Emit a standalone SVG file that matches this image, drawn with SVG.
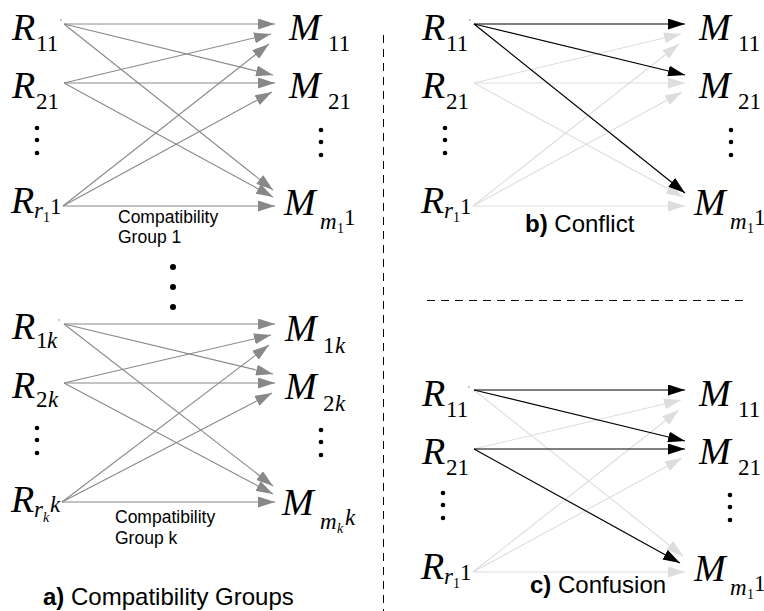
<svg xmlns="http://www.w3.org/2000/svg" width="764" height="611" viewBox="0 0 764 611">
  <style>
    .big { font-family: "Liberation Serif", "Times New Roman", serif; font-style: italic; font-size: 38px; fill: #000; }
    .sub { font-family: "Liberation Serif", "Times New Roman", serif; font-size: 23px; fill: #000; }
    .subi { font-family: "Liberation Serif", "Times New Roman", serif; font-style: italic; font-size: 23px; fill: #000; }
    .ss { font-family: "Liberation Serif", "Times New Roman", serif; font-size: 14px; fill: #000; }
    .ssi { font-family: "Liberation Serif", "Times New Roman", serif; font-style: italic; font-size: 14px; fill: #000; }
    .grp { font-family: "Liberation Sans", Arial, sans-serif; font-size: 17.5px; fill: #000; }
    .cap { font-family: "Liberation Sans", Arial, sans-serif; font-size: 24px; fill: #000; }
    .cap tspan.b { font-weight: bold; }
    .g { stroke: #888; stroke-width: 1.1; fill: none; marker-end: url(#ah-g); }
    .l { stroke: #ddd; stroke-width: 1.1; fill: none; marker-end: url(#ah-l); }
    .k { stroke: #000; stroke-width: 1.2; fill: none; marker-end: url(#ah-k); }
    .dot { fill: #000; }
    .tick { fill: #666; }
    .div { stroke: #000; stroke-width: 1; stroke-dasharray: 8 6; fill: none; }
  </style>
  <defs>
    <marker id="ah-g" markerUnits="userSpaceOnUse" markerWidth="17" markerHeight="11" refX="17" refY="5.5" orient="auto">
      <path d="M0,0 L17,5.5 L0,11 z" fill="#888"/>
    </marker>
    <marker id="ah-l" markerUnits="userSpaceOnUse" markerWidth="17" markerHeight="11" refX="17" refY="5.5" orient="auto">
      <path d="M0,0 L17,5.5 L0,11 z" fill="#ddd"/>
    </marker>
    <marker id="ah-k" markerUnits="userSpaceOnUse" markerWidth="17" markerHeight="11" refX="17" refY="5.5" orient="auto">
      <path d="M0,0 L17,5.5 L0,11 z" fill="#000"/>
    </marker>
    <!-- vertical ellipsis used in every column -->
    <g id="vdots">
      <circle cx="0" cy="0" r="2.3"/>
      <circle cx="0" cy="12" r="2.3"/>
      <circle cx="0" cy="25" r="2.3"/>
    </g>
  </defs>

  <!-- panel separators -->
  <g id="dividers">
    <line class="div" x1="383.5" y1="35" x2="383.5" y2="611"/>
    <line class="div" x1="427" y1="300.5" x2="745" y2="300.5"/>
  </g>

  <!-- ===== a) group 1 ===== -->
  <g id="connectors-a1">
    <line class="g" x1="64" y1="24" x2="275" y2="24"/>
    <line class="g" x1="64" y1="24" x2="273" y2="75"/>
    <line class="g" x1="64" y1="24" x2="273" y2="190"/>
    <line class="g" x1="64" y1="83" x2="271" y2="34"/>
    <line class="g" x1="64" y1="83" x2="275" y2="83"/>
    <line class="g" x1="64" y1="83" x2="273" y2="197"/>
    <line class="g" x1="63" y1="206" x2="269" y2="44"/>
    <line class="g" x1="63" y1="206" x2="272" y2="92"/>
    <line class="g" x1="63" y1="206" x2="275" y2="206"/>
  </g>
  <g id="a1-R11"><circle class="tick" cx="61" cy="20" r="0.7"/><text class="big" x="12" y="40">R</text><text class="sub" x="36" y="51">11</text></g>
  <g id="a1-R21"><text class="big" x="12" y="98">R</text><text class="sub" x="36" y="109">21</text></g>
  <g id="a1-Rr1"><text class="big" x="11" y="213">R</text><text class="subi" x="34" y="218">r</text><text class="ss" x="43" y="222">1</text><text class="sub" x="50" y="214">1</text></g>
  <g id="a1-M11"><text class="big" x="289" y="40">M</text><text class="sub" x="328" y="51">11</text></g>
  <g id="a1-M21"><text class="big" x="289" y="98">M</text><text class="sub" x="328" y="109">21</text></g>
  <g id="a1-Mm1"><text class="big" x="284" y="215">M</text><text class="subi" x="320" y="229">m</text><text class="ss" x="337" y="233">1</text><text class="sub" x="344" y="225">1</text></g>
  <g id="a1-dots" class="dot"><use href="#vdots" x="37" y="128"/><use href="#vdots" x="321" y="130"/></g>
  <g id="a1-label"><text class="grp" x="118" y="223">Compatibility</text><text class="grp" x="118" y="243">Group 1</text></g>

  <!-- ellipsis between groups -->
  <g id="a-between" class="dot">
    <circle cx="173" cy="267" r="3"/>
    <circle cx="173" cy="287" r="3"/>
    <circle cx="173" cy="307" r="3"/>
  </g>

  <!-- ===== a) group k ===== -->
  <g id="connectors-ak">
    <line class="g" x1="64" y1="324" x2="275" y2="324"/>
    <line class="g" x1="64" y1="324" x2="273" y2="374"/>
    <line class="g" x1="64" y1="324" x2="273" y2="486"/>
    <line class="g" x1="64" y1="383" x2="271" y2="335"/>
    <line class="g" x1="64" y1="383" x2="275" y2="383"/>
    <line class="g" x1="64" y1="383" x2="273" y2="494"/>
    <line class="g" x1="62" y1="502" x2="269" y2="345"/>
    <line class="g" x1="62" y1="502" x2="272" y2="393"/>
    <line class="g" x1="62" y1="502" x2="275" y2="502"/>
  </g>
  <g id="ak-R1k"><circle class="tick" cx="59" cy="320" r="0.7"/><text class="big" x="12" y="339">R</text><text class="sub" x="36" y="348">1</text><text class="subi" x="47" y="348">k</text></g>
  <g id="ak-R2k"><text class="big" x="12" y="398">R</text><text class="sub" x="36" y="407">2</text><text class="subi" x="48" y="407">k</text></g>
  <g id="ak-Rrk"><text class="big" x="11" y="512">R</text><text class="subi" x="34" y="517">r</text><text class="ssi" x="43" y="522">k</text><text class="subi" x="50" y="512">k</text></g>
  <g id="ak-M1k"><text class="big" x="285" y="341">M</text><text class="sub" x="323" y="353">1</text><text class="subi" x="335" y="353">k</text></g>
  <g id="ak-M2k"><text class="big" x="285" y="399">M</text><text class="sub" x="323" y="411">2</text><text class="subi" x="335" y="411">k</text></g>
  <g id="ak-Mmk"><text class="big" x="282" y="515">M</text><text class="subi" x="320" y="529">m</text><text class="ssi" x="337" y="533">k</text><text class="subi" x="345" y="525">k</text></g>
  <g id="ak-dots" class="dot"><use href="#vdots" x="37" y="428"/><use href="#vdots" x="321" y="430"/></g>
  <g id="ak-label"><text class="grp" x="115" y="523">Compatibility</text><text class="grp" x="115" y="544">Group k</text></g>

  <text id="cap-a" class="cap" x="43" y="605"><tspan class="b">a)</tspan> Compatibility Groups</text>

  <!-- ===== b) conflict ===== -->
  <g transform="translate(410,0)">
    <g id="connectors-b">
      <line class="l" x1="64" y1="83" x2="271" y2="34"/>
      <line class="l" x1="64" y1="83" x2="275" y2="83"/>
      <line class="l" x1="64" y1="83" x2="273" y2="197"/>
      <line class="l" x1="63" y1="206" x2="269" y2="44"/>
      <line class="l" x1="63" y1="206" x2="272" y2="92"/>
      <line class="l" x1="63" y1="206" x2="275" y2="206"/>
      <line class="k" x1="64" y1="24" x2="275" y2="24"/>
      <line class="k" x1="64" y1="24" x2="275" y2="75"/>
      <line class="k" x1="64" y1="24" x2="275" y2="193"/>
    </g>
    <g id="b-R11"><circle class="tick" cx="60" cy="20" r="0.7"/><text class="big" x="12" y="40">R</text><text class="sub" x="36" y="51">11</text></g>
    <g id="b-R21"><text class="big" x="12" y="98">R</text><text class="sub" x="36" y="109">21</text></g>
    <g id="b-Rr1"><text class="big" x="11" y="213">R</text><text class="subi" x="34" y="218">r</text><text class="ss" x="43" y="222">1</text><text class="sub" x="50" y="214">1</text></g>
    <g id="b-M11"><text class="big" x="289" y="40">M</text><text class="sub" x="328" y="51">11</text></g>
    <g id="b-M21"><text class="big" x="289" y="98">M</text><text class="sub" x="328" y="109">21</text></g>
    <g id="b-Mm1"><text class="big" x="284" y="215">M</text><text class="subi" x="320" y="229">m</text><text class="ss" x="337" y="233">1</text><text class="sub" x="344" y="225">1</text></g>
    <g id="b-dots" class="dot"><use href="#vdots" x="35" y="128"/><use href="#vdots" x="321" y="130"/></g>
    <text id="cap-b" class="cap" x="115" y="232"><tspan class="b">b)</tspan> Conflict</text>
  </g>

  <!-- ===== c) confusion ===== -->
  <g transform="translate(410,366)">
    <g id="connectors-c">
      <line class="l" x1="64" y1="24" x2="273" y2="190"/>
      <line class="l" x1="64" y1="83" x2="271" y2="34"/>
      <line class="l" x1="63" y1="206" x2="269" y2="44"/>
      <line class="l" x1="63" y1="206" x2="272" y2="92"/>
      <line class="l" x1="63" y1="206" x2="275" y2="206"/>
      <line class="k" x1="64" y1="24" x2="275" y2="24"/>
      <line class="k" x1="64" y1="24" x2="275" y2="75"/>
      <line class="k" x1="64" y1="83" x2="275" y2="83"/>
      <line class="k" x1="64" y1="83" x2="270" y2="197"/>
    </g>
    <g id="c-R11"><circle class="tick" cx="59" cy="21" r="0.7"/><text class="big" x="12" y="40">R</text><text class="sub" x="36" y="51">11</text></g>
    <g id="c-R21"><text class="big" x="12" y="98">R</text><text class="sub" x="36" y="109">21</text></g>
    <g id="c-Rr1"><text class="big" x="11" y="213">R</text><text class="subi" x="34" y="218">r</text><text class="ss" x="43" y="222">1</text><text class="sub" x="50" y="214">1</text></g>
    <g id="c-M11"><text class="big" x="289" y="40">M</text><text class="sub" x="328" y="51">11</text></g>
    <g id="c-M21"><text class="big" x="289" y="98">M</text><text class="sub" x="328" y="109">21</text></g>
    <g id="c-Mm1"><text class="big" x="284" y="215">M</text><text class="subi" x="320" y="229">m</text><text class="ss" x="337" y="233">1</text><text class="sub" x="344" y="225">1</text></g>
    <g id="c-dots" class="dot"><use href="#vdots" x="33" y="127"/><use href="#vdots" x="320" y="129"/></g>
    <text id="cap-c" class="cap" x="120" y="227" font-size="23"><tspan class="b">c)</tspan> Confusion</text>
  </g>
</svg>
